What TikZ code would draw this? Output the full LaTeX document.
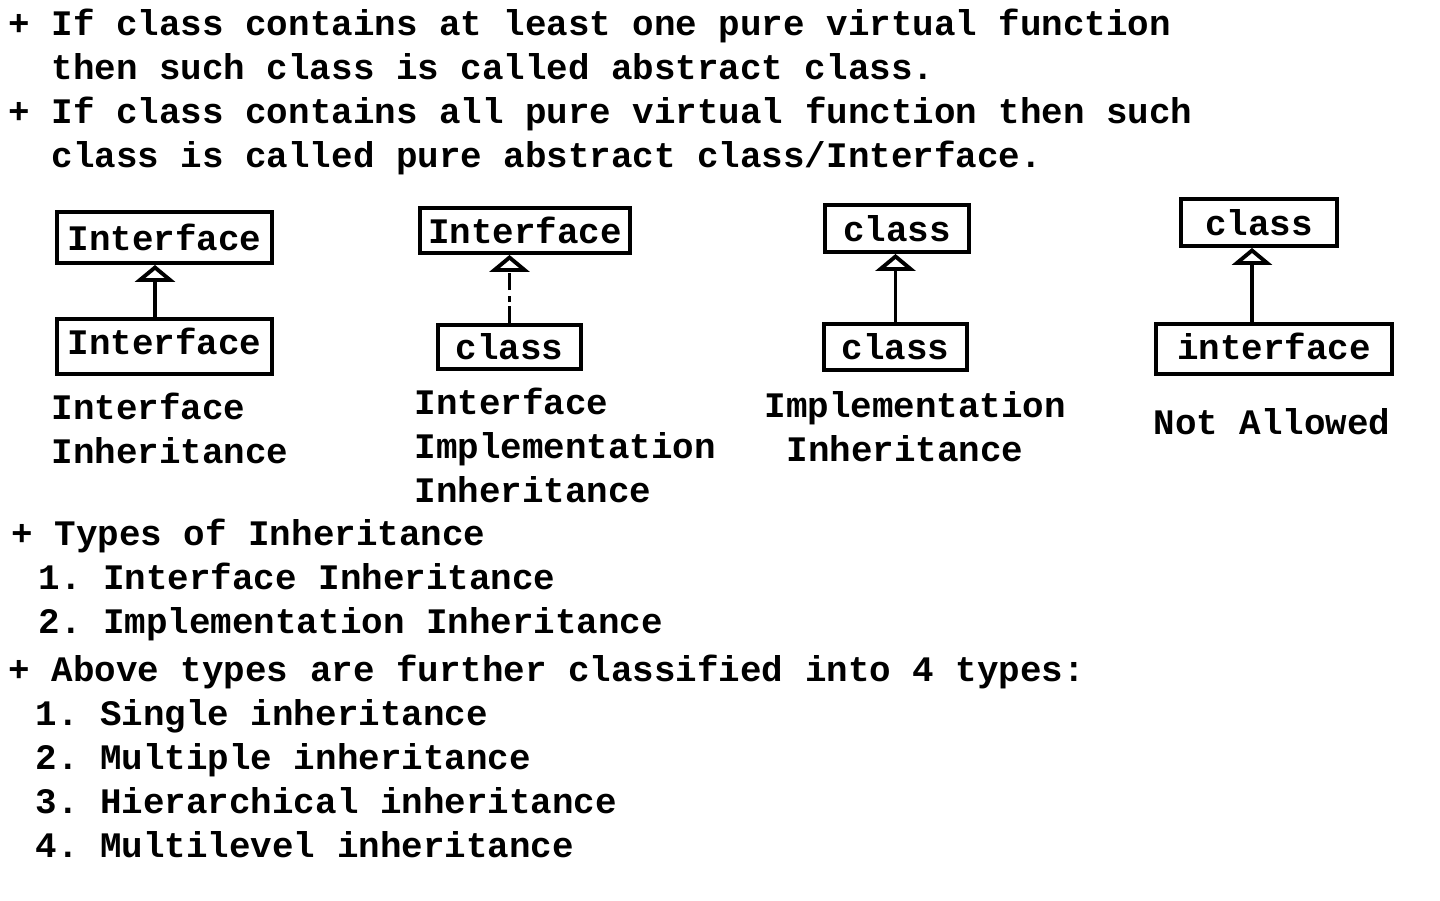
\documentclass[tikz,border=0pt]{standalone}
\usepackage{fontspec}
\setmonofont{Liberation Mono}
\usepackage{tikz}
\usetikzlibrary{arrows.meta}

\begin{document}
\begin{tikzpicture}[x=0.01cm, y=-0.01cm]
    \useasboundingbox (0,0) rectangle (1440,900);

    \begin{scope}[every node/.style={anchor=base west, inner sep=0pt, font=\ttfamily\bfseries\fontsize{10.2}{12}\selectfont}]
    \node (T1) at (8,35) {+ If class contains at least one pure virtual function};
    \node (T2) at (51,79) {then such class is called abstract class.};
    \node (T3) at (8,123) {+ If class contains all pure virtual function then such};
    \node (T4) at (51,167) {class is called pure abstract class/Interface.};

    \node (L1a) at (51,419) {Interface};
    \node (L1b) at (51,463) {Inheritance};
    \node (L2a) at (414,414) {Interface};
    \node (L2b) at (414,458) {Implementation};
    \node (L2c) at (414,502) {Inheritance};
    \node (L3a) at (764,417) {Implementation};
    \node (L3b) at (786,461) {Inheritance};
    \node (L4) at (1153,434) {Not Allowed};

    \node (K0) at (11,545) {+ Types of Inheritance};
    \node (K1) at (38,589) {1. Interface Inheritance};
    \node (K2) at (38,633) {2. Implementation Inheritance};
    \node (C0) at (8,681) {+ Above types are further classified into 4 types:};
    \node (C1) at (35,725) {1. Single inheritance};
    \node (C2) at (35,769) {2. Multiple inheritance};
    \node (C3) at (35,813) {3. Hierarchical inheritance};
    \node (C4) at (35,857) {4. Multilevel inheritance};
    \end{scope}

    \begin{scope}[every node/.style={draw, line width=1.1pt, inner sep=0pt, font=\ttfamily\bfseries\fontsize{10.2}{12}\selectfont}]
    \node[minimum width=2.15cm, minimum height=0.51cm] (IF1) at (164.5,237.5) {Interface};
    \node[minimum width=2.15cm, minimum height=0.55cm, text depth=0.1cm] (IF2) at (164.5,346.5) {Interface};
    \node[minimum width=2.10cm, minimum height=0.45cm] (IF3) at (525,230.5) {Interface};
    \node[minimum width=1.43cm, minimum height=0.44cm] (CL1) at (509.5,347) {class};
    \node[minimum width=1.44cm, minimum height=0.47cm] (CL2) at (897,228.5) {class};
    \node[minimum width=1.43cm, minimum height=0.46cm] (CL3) at (895.5,347) {class};
    \node[minimum width=1.56cm, minimum height=0.47cm] (CL4) at (1259,222.5) {class};
    \node[minimum width=2.36cm, minimum height=0.50cm, text depth=0.06cm] (IF4) at (1274,349) {interface};
    \end{scope}

    \draw[-{Triangle[open, width=0.4cm, length=0.17cm]}, line width=1.1pt] ([xshift=-0.095cm]IF2.north) -- ([xshift=-0.095cm]IF1.south);
    \draw[-{Triangle[open, width=0.4cm, length=0.17cm]}, line width=1.1pt, dash pattern=on 0.17cm off 0.04cm on 0.06cm off 0.06cm] (CL1.north) -- (CL1.north |- IF3.south);
    \draw[-{Triangle[open, width=0.4cm, length=0.17cm]}, line width=1.1pt] (CL3.north) -- (CL3.north |- CL2.south);
    \draw[-{Triangle[open, width=0.4cm, length=0.17cm]}, line width=1.1pt] ([xshift=-0.22cm]IF4.north) -- ([xshift=-0.07cm]CL4.south);
\end{tikzpicture}
\end{document}
